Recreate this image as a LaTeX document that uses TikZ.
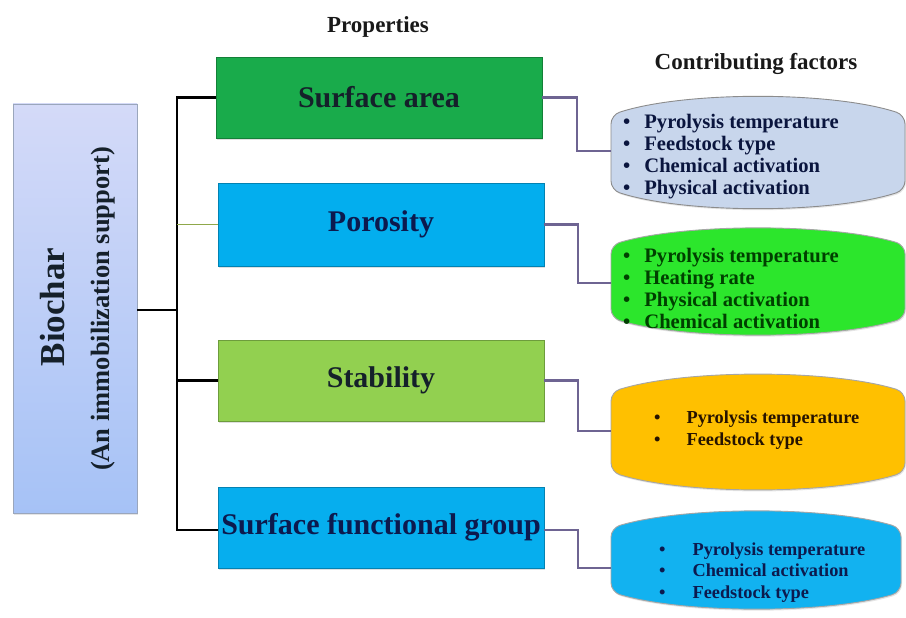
\documentclass[tikz,border=0pt]{standalone}
\usepackage{fontspec}
\setmainfont{Liberation Serif}
\usetikzlibrary{shadows}
\definecolor{biotop}{HTML}{D4DAF8}
\definecolor{biobot}{HTML}{A6C2F6}
\definecolor{biodraw}{HTML}{9AA6BC}
\definecolor{sagreen}{HTML}{19AB4B}
\definecolor{poblue}{HTML}{03AEEE}
\definecolor{stgreen}{HTML}{92D050}
\definecolor{sfblue}{HTML}{06AEEE}
\definecolor{f1fill}{HTML}{C8D6EC}
\definecolor{f2fill}{HTML}{2CE62C}
\definecolor{f3fill}{HTML}{FFC000}
\definecolor{f4fill}{HTML}{12B2F0}
\definecolor{purpleline}{HTML}{6E6492}
\definecolor{oliveline}{HTML}{8FA84A}
\definecolor{txtdark}{HTML}{15202A}
\definecolor{txtnavy}{HTML}{0C1A4E}
\begin{document}
\begin{tikzpicture}[x=1pt,y=-1pt,
  propbox/.style={minimum width=326pt, minimum height=81pt, inner sep=0pt,
    draw=#1!75!black, line width=0.6pt, fill=#1,
    drop shadow={opacity=0.25, shadow xshift=1.2pt, shadow yshift=-1.5pt},
    font=\fontsize{30}{32}\selectfont\bfseries},
  heading/.style={font=\fontsize{23}{25}\selectfont\bfseries, text=black!90},
  bullets/.style={anchor=west, inner sep=0pt, align=left, font=\fontsize{20.6}{21.8}\selectfont\bfseries},
  bulletsm/.style={bullets, font=\fontsize{18.3}{21.8}\selectfont\bfseries},
  treeline/.style={line width=2.6pt, black},
  factline/.style={line width=2.3pt, purpleline},
  fshape/.style={line width=0.9pt, rounded corners=9pt,
    drop shadow={opacity=0.2, shadow xshift=1pt, shadow yshift=-1.5pt}}
]
\useasboundingbox (0,0) rectangle (906,618);
\fill[white] (0,0) rectangle (906,618);

% headings
\node[heading] (hprop) at (378,27) {Properties};
\node[heading] (hfact) at (756,64) {Contributing factors};

% Biochar
\node[draw=biodraw, line width=0.8pt, top color=biotop, bottom color=biobot,
  minimum width=124pt, minimum height=409pt, inner sep=0pt,
  drop shadow={opacity=0.2, shadow xshift=1.2pt, shadow yshift=-1.5pt}] (bio) at (75,308.5) {};
\node[rotate=90, font=\fontsize{35}{37}\selectfont\bfseries, text=txtdark] (biot) at (53,307) {Biochar};
\node[rotate=90, font=\fontsize{26.5}{28}\selectfont\bfseries, text=txtdark] (biosub) at (103,309) {(An immobilization support)};

% property boxes
\node[propbox=sagreen, text=txtdark] (sa) at (379,97.5) {Surface area};
\node[propbox=poblue, text=txtnavy, minimum height=83pt] (po) at (381,224.5) {Porosity};
\node[propbox=stgreen, text=txtdark] (st) at (381,380.5) {Stability};
\node[propbox=sfblue, text=txtnavy] (sf) at (381,527.5) {Surface functional group};

% tree
\coordinate (tb) at (177,310);
\coordinate (t1) at (177,97.5);
\coordinate (t2) at (177,224.5);
\coordinate (t3) at (177,380.5);
\coordinate (t4) at (177,530);
\draw[treeline] (bio.east |- tb) -- (tb);
\draw[treeline, line cap=rect] (t1) -- (t4);
\draw[treeline] (t1) -- (sa.west);
\draw[line width=1.6pt, oliveline] (t2) -- (po.west);
\draw[treeline] (t3) -- (st.west);
\draw[treeline] (t4) -- (sf.west |- t4);

% factor shapes
\filldraw[fshape, fill=f1fill, draw=black!45] (611,115) .. controls (684.5,91) and (831.5,91) .. (905,115) -- (905,190) .. controls (831.5,214) and (684.5,214) .. (611,190) -- cycle;
\filldraw[fshape, fill=f2fill, draw=black!35] (611,245) .. controls (684.5,223) and (831.5,223) .. (905,245) -- (905,318) .. controls (831.5,340) and (684.5,340) .. (611,318) -- cycle;
\filldraw[fshape, fill=f3fill, draw=black!35] (611,392) .. controls (684.5,369) and (831.5,369) .. (905,392) -- (905,472) .. controls (831.5,495) and (684.5,495) .. (611,472) -- cycle;
\filldraw[fshape, fill=f4fill, draw=black!35] (611,528) .. controls (684.5,506) and (829,506) .. (901,528) -- (901,592) .. controls (829,614) and (684.5,614) .. (611,592) -- cycle;
\coordinate (f1) at (611,151);
\coordinate (f2) at (611,283);
\coordinate (f3) at (611,431);
\coordinate (f4) at (611,568);

% connectors to factors
\draw[factline] (sa.east) -- (577,97.5) |- (f1);
\draw[factline] (po.east) -- (578,224.5) |- (f2);
\draw[factline] (st.east) -- (578,380.5) |- (f3);
\draw[factline] (sf.east |- t4) -- (578,530) |- (f4);

% factor texts
\node[bullets, text=txtnavy!80!black] (b1) at (623,156.5) {%
\textbullet\hspace{14pt}Pyrolysis temperature\\
\textbullet\hspace{14pt}Feedstock type\\
\textbullet\hspace{14pt}Chemical activation\\
\textbullet\hspace{14pt}Physical activation};
\node[bullets, text=green!25!black] (b2) at (623,288.5) {%
\textbullet\hspace{14pt}Pyrolysis temperature\\
\textbullet\hspace{14pt}Heating rate\\
\textbullet\hspace{14pt}Physical activation\\
\textbullet\hspace{14pt}Chemical activation};
\node[bulletsm, text=black!85!orange] (b3) at (654,430) {%
\textbullet\hspace{26pt}Pyrolysis temperature\\
\textbullet\hspace{26pt}Feedstock type};
\node[bulletsm, text=txtnavy] (b4) at (659,572.5) {%
\textbullet\hspace{27pt}Pyrolysis temperature\\
\textbullet\hspace{27pt}Chemical activation\\
\textbullet\hspace{27pt}Feedstock type};
\end{tikzpicture}
\end{document}
